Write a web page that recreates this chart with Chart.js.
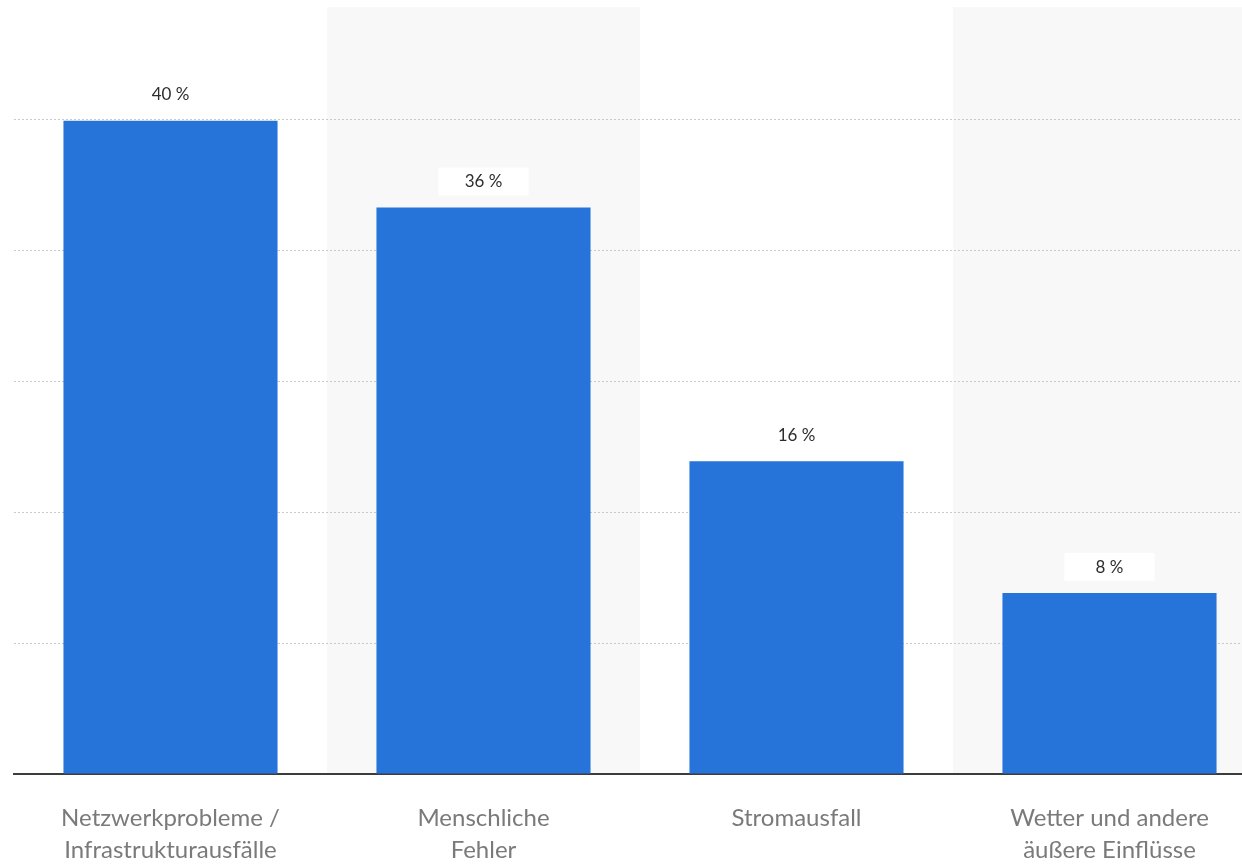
<!DOCTYPE html>
<html lang="de">
<head>
    <meta charset="UTF-8">
    <title>Ursachen von Ausfällen</title>
    <script src="https://cdn.jsdelivr.net/npm/chart.js"></script>
    <style>
        html, body {
            margin: 0;
            padding: 0;
            background: #ffffff;
            overflow: hidden;
        }
        .wrap {
            position: relative;
            width: 1268px;
            height: 864px;
        }
    </style>
</head>
<body>
    <div class="wrap">
        <canvas id="chart"></canvas>
    </div>

    <script>
        // Kategorien (mehrzeilige Achsenbeschriftung)
        const categories = [
            ['Netzwerkprobleme /', 'Infrastrukturausfälle'],
            ['Menschliche', 'Fehler'],
            ['Stromausfall'],
            ['Wetter und andere', 'äußere Einflüsse']
        ];
        // Balkenhöhen so wie im Bild gezeichnet (nicht proportional zu den Beschriftungen)
        const barHeights = [39.9, 34.6, 19.1, 11.05];
        // Beschriftungen über den Balken
        const valueLabels = ['40 %', '36 %', '16 %', '8 %'];
        // Gitterlinien der y-Achse
        const gridTicks = [0, 8, 16, 24, 32, 40];

        const BAR_COLOR = '#2673da';
        const BAND_COLOR = '#f8f8f8';

        // graue Hintergrundstreifen hinter jeder zweiten Kategorie
        const bandPlugin = {
            id: 'bands',
            beforeDraw(chart) {
                const { ctx, chartArea, scales } = chart;
                const x = scales.x;
                const step = x.getPixelForValue(1) - x.getPixelForValue(0);
                ctx.save();
                ctx.fillStyle = BAND_COLOR;
                for (let i = 1; i < categories.length; i += 2) {
                    const c = x.getPixelForValue(i);
                    ctx.fillRect(c - step / 2, chartArea.top, step, chartArea.bottom - chartArea.top);
                }
                ctx.restore();
            }
        };

        // Wertbeschriftungen mit weißem Kasten
        const labelPlugin = {
            id: 'valueLabels',
            afterDatasetsDraw(chart) {
                const { ctx } = chart;
                const meta = chart.getDatasetMeta(0);
                ctx.save();
                ctx.font = '17px Lato, "Noto Sans", sans-serif';
                ctx.textAlign = 'center';
                ctx.textBaseline = 'middle';
                meta.data.forEach((bar, i) => {
                    const cy = bar.y - 26;
                    ctx.fillStyle = '#ffffff';
                    ctx.fillRect(bar.x - 45, cy - 14, 90, 28);
                    ctx.fillStyle = '#2e2e2e';
                    ctx.fillText(valueLabels[i], bar.x, cy);
                });
                ctx.restore();
            }
        };

        const ctx = document.getElementById('chart').getContext('2d');
        new Chart(ctx, {
            type: 'bar',
            data: {
                labels: categories,
                datasets: [{
                    data: barHeights,
                    backgroundColor: BAR_COLOR,
                    borderWidth: 0,
                    categoryPercentage: 1,
                    barPercentage: 0.684
                }]
            },
            options: {
                responsive: true,
                maintainAspectRatio: false,
                animation: false,
                layout: {
                    padding: { top: 7, left: 14, right: 2, bottom: 0 }
                },
                plugins: {
                    legend: { display: false },
                    tooltip: { enabled: false }
                },
                scales: {
                    x: {
                        grid: { display: false },
                        border: { display: true, color: '#3c3c3c', width: 2 },
                        ticks: {
                            color: '#7a7a7a',
                            padding: 20,
                            maxRotation: 0,
                            autoSkip: false,
                            font: { family: 'Lato, "Noto Sans", sans-serif', size: 24, lineHeight: 1.35 }
                        },
                        afterFit(scale) { scale.height = 90; }
                    },
                    y: {
                        min: 0,
                        max: 46.84,
                        afterBuildTicks(scale) {
                            scale.ticks = gridTicks.map(v => ({ value: v }));
                        },
                        afterFit(scale) { scale.width = 0; },
                        ticks: { display: false },
                        border: { display: false, dash: [2, 2] },
                        grid: {
                            drawTicks: false,
                            color: ctx => ctx.tick && ctx.tick.value === 0 ? 'rgba(0,0,0,0)' : '#c9c9c9',
                            lineWidth: 1
                        }
                    }
                }
            },
            plugins: [bandPlugin, labelPlugin]
        });
    </script>
</body>
</html>
